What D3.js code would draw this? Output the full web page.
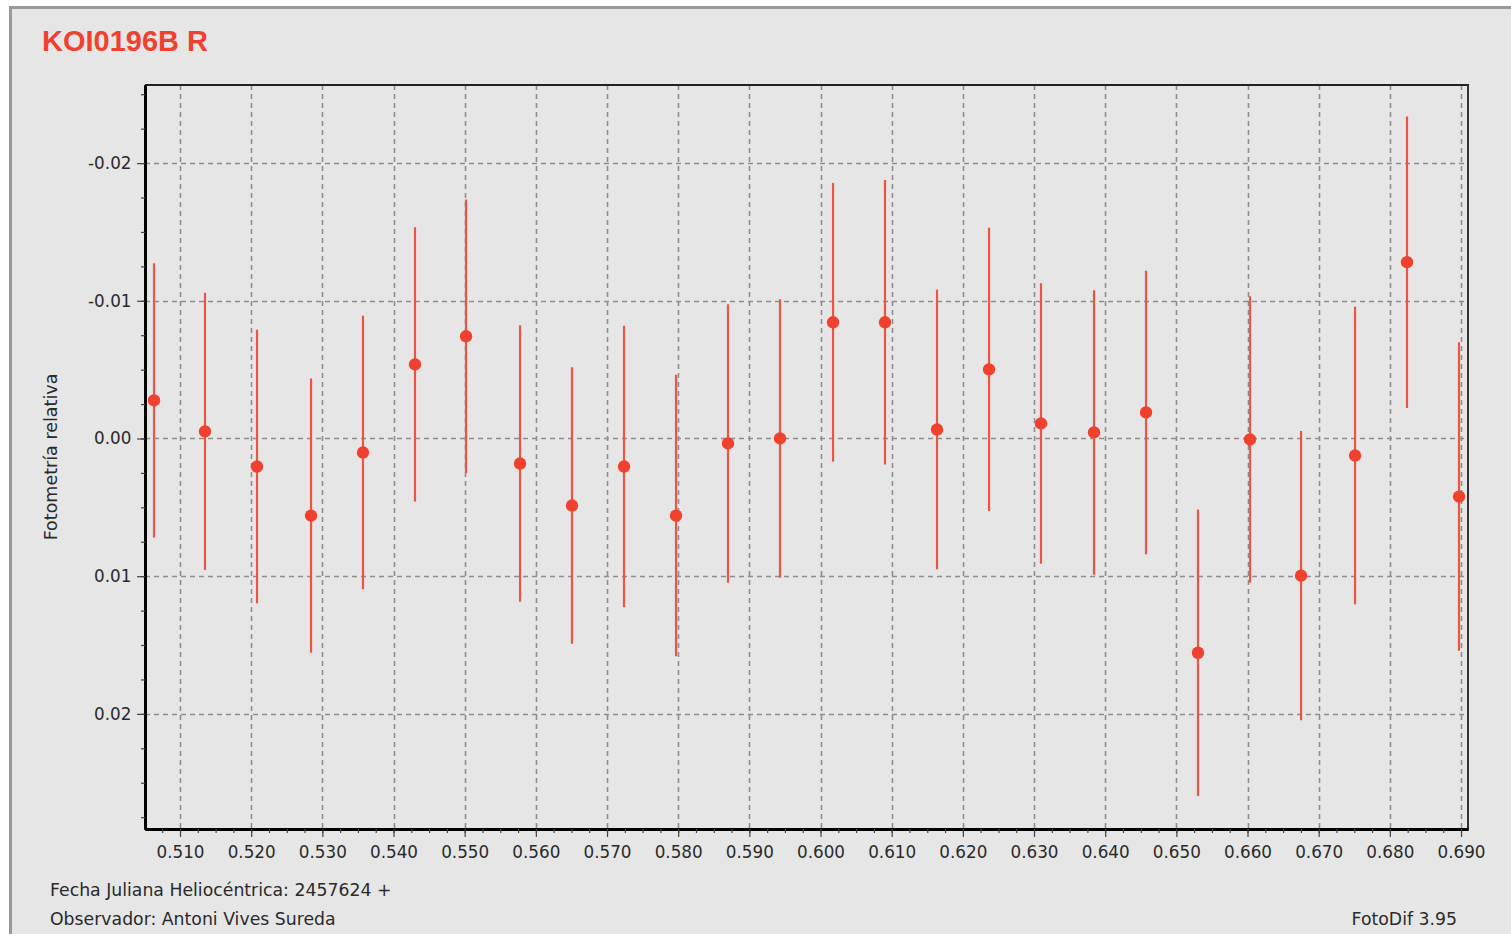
<!DOCTYPE html>
<html>
<head>
<meta charset="utf-8">
<script src="https://cdn.jsdelivr.net/npm/d3@7"></script>
<style>
  html, body { margin: 0; padding: 0; background: #ffffff; }
  svg { display: block; }
</style>
</head>
<body>
<svg id="chart" width="1511" height="934"></svg>
<script>
// ---- data ----
const title = "KOI0196B R";
const yLabel = "Fotometría relativa";
const footLeft1 = "Fecha Juliana Heliocéntrica: 2457624 +";
const footLeft2 = "Observador: Antoni Vives Sureda";
const footRight = "FotoDif 3.95";

const jd = [0.50635, 0.51351, 0.52082, 0.52841, 0.53571, 0.54302, 0.55019, 0.55778, 0.56508,
            0.57239, 0.57970, 0.58700, 0.59431, 0.60176, 0.60906, 0.61637, 0.62368, 0.63098,
            0.63843, 0.64574, 0.65304, 0.66035, 0.66752, 0.67511, 0.68241, 0.68972];
const mag = [-0.00276, -0.00051, 0.00204, 0.00560, 0.00102, -0.00538, -0.00742, 0.00182, 0.00487,
             0.00204, 0.00560, 0.00036, 0.00000, -0.00844, -0.00844, -0.00065, -0.00502, -0.00109,
             -0.00044, -0.00189, 0.01556, 0.00007, 0.00996, 0.00124, -0.01280, 0.00422];
const err = [0.00996, 0.01007, 0.00993, 0.00996, 0.00993, 0.00996, 0.00993, 0.01004, 0.01004,
             0.01022, 0.01022, 0.01011, 0.01011, 0.01011, 0.01033, 0.01015, 0.01029, 0.01018,
             0.01033, 0.01029, 0.01040, 0.01040, 0.01050, 0.01080, 0.01058, 0.01120];

const xMajorTicks = [0.51, 0.52, 0.53, 0.54, 0.55, 0.56, 0.57, 0.58, 0.59, 0.60,
                     0.61, 0.62, 0.63, 0.64, 0.65, 0.66, 0.67, 0.68, 0.69];
const yMajorTicks = [-0.02, -0.01, 0.00, 0.01, 0.02];
const xDomain = [0.50508, 0.69098];
const yDomain = [-0.02567, 0.02836];

// ---- drawing ----
const svg = d3.select("#chart");
const plot = { left: 145, right: 1468, top: 85, bottom: 829 };

const x = d3.scaleLinear().domain(xDomain).range([plot.left, plot.right]);
const y = d3.scaleLinear().domain(yDomain).range([plot.top, plot.bottom]);

const red = "#f0412f";
const font = "'DejaVu Sans', Verdana, sans-serif";
const textCol = "#2a2a2a";

// outer frame
svg.append("rect")
  .attr("x", 10.5).attr("y", 7.5).attr("width", 1520).attr("height", 960)
  .attr("fill", "#e6e6e6").attr("stroke", "#9a9a9a").attr("stroke-width", 3);

// title
svg.append("text")
  .attr("x", 42).attr("y", 51)
  .attr("font-family", "'Liberation Sans', Arial, sans-serif")
  .attr("font-weight", "bold").attr("font-size", 29)
  .attr("fill", red).text(title);

// minor ticks
const xMinor = d3.range(0, 80).map(i => +(0.5025 + i * 0.0025).toFixed(4))
  .filter(v => v > xDomain[0] && v < xDomain[1]);
const yMinor = d3.range(0, 40).map(i => +(-0.03 + i * 0.0025).toFixed(4))
  .filter(v => v > yDomain[0] && v < yDomain[1]);

// grid
const grid = svg.append("g").attr("stroke", "#8e8e8e").attr("stroke-width", 1.6)
  .attr("stroke-dasharray", "5,4");
grid.selectAll("line.vx").data(xMajorTicks).join("line")
  .attr("x1", d => Math.round(x(d)) + 0.5).attr("x2", d => Math.round(x(d)) + 0.5)
  .attr("y1", plot.top).attr("y2", plot.bottom);
grid.selectAll("line.hy").data(yMajorTicks).join("line")
  .attr("y1", d => Math.round(y(d)) + 0.5).attr("y2", d => Math.round(y(d)) + 0.5)
  .attr("x1", plot.left).attr("x2", plot.right);

// plot frame (top/right thinner)
svg.append("line").attr("x1", plot.left).attr("x2", plot.right + 1)
  .attr("y1", plot.top).attr("y2", plot.top).attr("stroke", "#222").attr("stroke-width", 2);
svg.append("line").attr("x1", plot.right).attr("x2", plot.right)
  .attr("y1", plot.top).attr("y2", plot.bottom).attr("stroke", "#333").attr("stroke-width", 2);

// error bars
const pts = jd.map((v, i) => ({ x: v, y: mag[i], e: err[i] }));
svg.append("g").selectAll("line").data(pts).join("line")
  .attr("x1", d => x(d.x)).attr("x2", d => x(d.x))
  .attr("y1", d => y(d.y - d.e)).attr("y2", d => y(d.y + d.e))
  .attr("stroke", "#ec5444").attr("stroke-width", 2.2);

// points
svg.append("g").selectAll("circle").data(pts).join("circle")
  .attr("cx", d => x(d.x)).attr("cy", d => y(d.y)).attr("r", 6.2)
  .attr("fill", red);

// axes
const fmtX = d3.format(".3f");
const fmtY = v => d3.format(".2f")(v).replace("−", "-");

const xAxis = d3.axisBottom(x).tickValues(xMajorTicks).tickFormat(fmtX).tickSize(8).tickSizeOuter(0);
const gx = svg.append("g").attr("transform", `translate(0,${plot.bottom})`).call(xAxis);
const xAxisMinor = d3.axisBottom(x).tickValues(xMinor).tickFormat("").tickSize(4).tickSizeOuter(0);
const gxm = svg.append("g").attr("transform", `translate(0,${plot.bottom})`).call(xAxisMinor);

const yAxis = d3.axisLeft(y).tickValues(yMajorTicks).tickFormat(fmtY).tickSize(8).tickSizeOuter(0);
const gy = svg.append("g").attr("transform", `translate(${plot.left},0)`).call(yAxis);
const yAxisMinor = d3.axisLeft(y).tickValues(yMinor).tickFormat("").tickSize(4).tickSizeOuter(0);
const gym = svg.append("g").attr("transform", `translate(${plot.left},0)`).call(yAxisMinor);

[gx, gy, gxm, gym].forEach(g => {
  g.select(".domain").attr("stroke", "#000").attr("stroke-width", 3);
  g.selectAll(".tick line").attr("stroke", "#444").attr("stroke-width", 1.2);
  g.selectAll(".tick text").attr("font-family", font).attr("font-size", 16.8).attr("fill", textCol);
});
gx.selectAll(".tick text").attr("dy", "1.05em");
gy.selectAll(".tick text").attr("dx", "-0.15em");

// y-axis title
svg.append("text")
  .attr("transform", `translate(57,${(plot.top + plot.bottom) / 2}) rotate(-90)`)
  .attr("text-anchor", "middle").attr("font-family", font).attr("font-size", 17.5)
  .attr("fill", textCol).text(yLabel);

// footer texts
svg.append("text").attr("x", 50).attr("y", 896).attr("font-family", font)
  .attr("font-size", 17.3).attr("fill", textCol).text(footLeft1);
svg.append("text").attr("x", 50).attr("y", 925).attr("font-family", font)
  .attr("font-size", 17.3).attr("fill", textCol).text(footLeft2);
svg.append("text").attr("x", 1457).attr("y", 925).attr("text-anchor", "end")
  .attr("font-family", font).attr("font-size", 17.3).attr("fill", textCol).text(footRight);
</script>
</body>
</html>
